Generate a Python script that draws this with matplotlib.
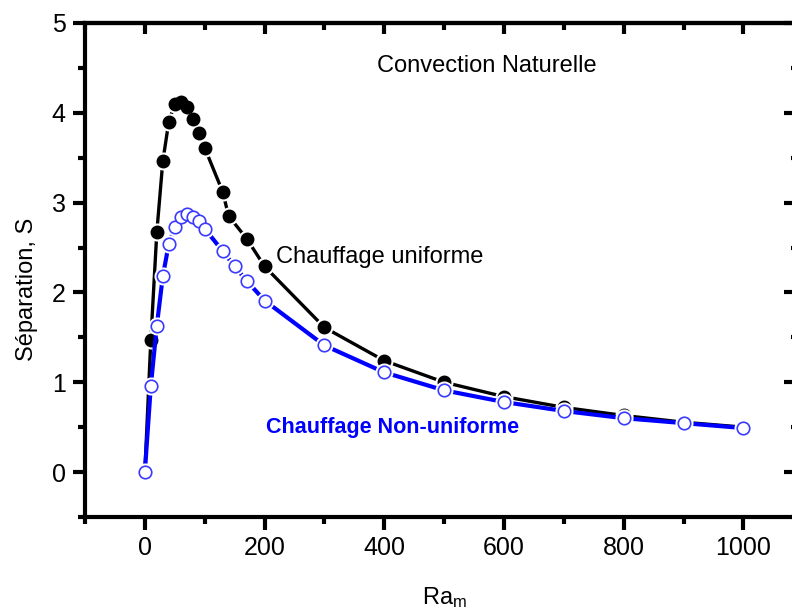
import matplotlib
matplotlib.use("Agg")
import matplotlib.pyplot as plt
from matplotlib.ticker import MultipleLocator

plt.rcParams['font.family'] = ['Liberation Sans', 'DejaVu Sans']
plt.rcParams['mathtext.fontset'] = 'custom'
plt.rcParams['mathtext.rm'] = 'Liberation Sans'
plt.rcParams['mathtext.default'] = 'regular'

# uniform heating (filled black)
ra_uniform = [0, 10, 20, 30, 40, 50, 60, 70, 80, 90, 100, 130, 140, 170, 200,
              300, 400, 500, 600, 700, 800, 900, 1000]
s_uniform = [0, 1.47, 2.67, 3.46, 3.90, 4.10, 4.12, 4.06, 3.93, 3.77, 3.61, 3.12, 2.85, 2.60, 2.29,
             1.61, 1.24, 1.00, 0.84, 0.72, 0.63, 0.555, 0.50]

# non-uniform heating (open blue)
ra_nonuni = [0, 10, 20, 30, 40, 50, 60, 70, 80, 90, 100, 130, 150, 170, 200,
             300, 400, 500, 600, 700, 800, 900, 1000]
s_nonuni = [0, 0.96, 1.63, 2.18, 2.54, 2.73, 2.84, 2.87, 2.84, 2.79, 2.71, 2.46, 2.29, 2.13, 1.91,
            1.41, 1.11, 0.91, 0.78, 0.68, 0.60, 0.545, 0.49]

fig = plt.figure(figsize=(7.92, 6.14), dpi=100)
ax = fig.add_axes([0.1073, 0.158, 0.907, 0.8046])

# black series: line, white halo, markers
ax.plot(ra_uniform, s_uniform, color='black', lw=2.4, zorder=2)
ax.plot(ra_uniform, s_uniform, ls='none', marker='o', ms=12, mfc='white', mec='white', zorder=3)
ax.plot(ra_uniform, s_uniform, ls='none', marker='o', ms=9, mfc='black', mec='black', zorder=4)

# blue series
ax.plot(ra_nonuni, s_nonuni, color='#0000ff', lw=3.0, zorder=5)
ax.plot(ra_nonuni, s_nonuni, ls='none', marker='o', ms=12, mfc='white', mec='white', zorder=6)
ax.plot(ra_nonuni, s_nonuni, ls='none', marker='o', ms=9, mfc='white', mec='#3a3aff', mew=1.2, zorder=7)

ax.set_xlim(-100, 1100)
ax.set_ylim(-0.5, 5)
ax.xaxis.set_major_locator(MultipleLocator(200))
ax.xaxis.set_minor_locator(MultipleLocator(100))
ax.yaxis.set_major_locator(MultipleLocator(1))
ax.yaxis.set_minor_locator(MultipleLocator(0.5))

for sp in ax.spines.values():
    sp.set_linewidth(3)
ax.tick_params(which='major', direction='out', length=9, width=3, labelsize=18, pad=5)
ax.tick_params(which='minor', direction='out', length=5, width=3)

# mirrored axes with inward ticks
top = ax.secondary_xaxis('top')
top.xaxis.set_major_locator(MultipleLocator(200))
top.xaxis.set_minor_locator(MultipleLocator(100))
top.tick_params(which='major', direction='in', length=8, width=3, labeltop=False)
top.tick_params(which='minor', direction='in', length=5, width=3)
top.spines['top'].set_linewidth(3)

right = ax.secondary_yaxis('right')
right.yaxis.set_major_locator(MultipleLocator(1))
right.yaxis.set_minor_locator(MultipleLocator(0.5))
right.tick_params(which='major', direction='in', length=14, width=3, labelright=False)
right.tick_params(which='minor', direction='in', length=9, width=3)

ax.set_ylabel('Séparation, S', fontsize=17)
ax.yaxis.set_label_coords(-0.066, 0.4615)
ax.set_xlabel('Ra$_{m}$', fontsize=17, labelpad=18)

ax.text(571, 4.52, 'Convection Naturelle', fontsize=17, ha='center', va='center')
ax.text(219, 2.40, 'Chauffage uniforme', fontsize=17, ha='left', va='center')
ax.text(203, 0.50, 'Chauffage Non-uniforme', fontsize=15.5, ha='left', va='center',
        color='#0000ff', fontweight='bold')

fig.savefig('out.png', dpi=100)
